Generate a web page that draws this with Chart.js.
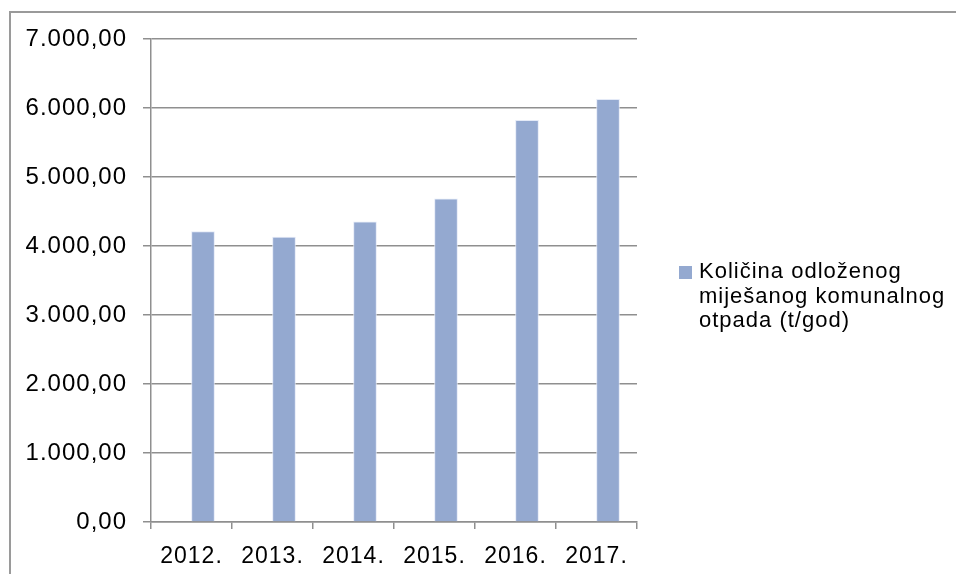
<!DOCTYPE html>
<html>
<head>
<meta charset="utf-8">
<script src="https://cdn.jsdelivr.net/npm/chart.js@4.4.1/dist/chart.umd.min.js"></script>
<style>
  html, body { margin: 0; padding: 0; background: #ffffff; overflow: hidden; }
  #wrap { position: relative; width: 956px; height: 574px; }
  #frame { position: absolute; left: 9px; top: 11px; width: 1000px; height: 700px; border: 2px solid #9a9a9a; box-sizing: border-box; }
  #c { position: absolute; left: 0; top: 0; }
</style>
</head>
<body>
<div id="wrap">
  <div id="frame"></div>
  <canvas id="c" width="956" height="574"></canvas>
</div>
<script>
// ---- data ----
const categories = ['2012.', '2013.', '2014.', '2015.', '2016.', '2017.'];
const wasteValues = [4210, 4130, 4350, 4685, 5820, 6125];
const emptySeries = [null, null, null, null, null, null];
const seriesLabelLines = ['Količina odloženog', 'miješanog komunalnog', 'otpada (t/god)'];
const yTickLabels = ['0,00', '1.000,00', '2.000,00', '3.000,00', '4.000,00', '5.000,00', '6.000,00', '7.000,00'];
const yMin = 0, yMax = 7000, yStep = 1000;

const barColor = '#94A9D0';
const gridColor = '#8f8f8f';
const fontFamily = '"Liberation Sans", Arial, sans-serif';

const spacingPlugin = {
  id: 'letterSpacing',
  beforeLayout(chart) { if ('letterSpacing' in chart.ctx) chart.ctx.letterSpacing = '1px'; },
  beforeDraw(chart) { if ('letterSpacing' in chart.ctx) chart.ctx.letterSpacing = '1px'; }
};

const legendPlugin = {
  id: 'sideLegend',
  afterDraw(chart) {
    const ctx = chart.ctx;
    const area = chart.chartArea;
    const boxX = area.right + 42;
    const textX = area.right + 62;
    const firstBaseline = 278;
    const lineGap = 24.5;
    ctx.save();
    ctx.fillStyle = barColor;
    ctx.fillRect(boxX, 266, 13, 13);
    ctx.fillStyle = '#000000';
    ctx.font = '22px ' + fontFamily;
    ctx.textAlign = 'left';
    ctx.textBaseline = 'alphabetic';
    seriesLabelLines.forEach((line, i) => {
      ctx.fillText(line, textX, firstBaseline + i * lineGap);
    });
    ctx.restore();
  }
};

new Chart(document.getElementById('c'), {
  type: 'bar',
  data: {
    labels: categories,
    datasets: [
      {
        label: '',
        data: emptySeries,
        backgroundColor: barColor,
        barThickness: 23
      },
      {
        label: seriesLabelLines.join(' '),
        data: wasteValues,
        backgroundColor: barColor,
        borderColor: 'rgba(225,232,246,0.9)',
        borderWidth: 1,
        barThickness: 23
      }
    ]
  },
  options: {
    responsive: false,
    animation: false,
    devicePixelRatio: 1,
    layout: { padding: { left: 0, top: 39, right: 319, bottom: 0 } },
    plugins: {
      legend: { display: false },
      tooltip: { enabled: false },
      title: { display: false }
    },
    scales: {
      x: {
        type: 'category',
        offset: true,
        grid: {
          offset: true,
          drawOnChartArea: false,
          drawTicks: true,
          tickLength: 7,
          color: gridColor,
          lineWidth: 1.5
        },
        border: { display: true, color: gridColor, width: 1.5 },
        ticks: {
          color: '#000000',
          font: { family: fontFamily, size: 23 },
          padding: 14,
          maxRotation: 0,
          autoSkip: false
        },
        afterFit(scale) { scale.height = 52; }
      },
      y: {
        min: yMin,
        max: yMax,
        ticks: {
          stepSize: yStep,
          color: '#000000',
          font: { family: fontFamily, size: 24 },
          padding: 16,
          callback: (value, index) => yTickLabels[index]
        },
        grid: {
          color: gridColor,
          lineWidth: 1.5,
          drawTicks: true,
          tickLength: 8
        },
        border: { display: true, color: gridColor, width: 1.5 },
        afterFit(scale) { scale.width = 151; }
      }
    }
  },
  plugins: [spacingPlugin, legendPlugin]
});
</script>
</body>
</html>
